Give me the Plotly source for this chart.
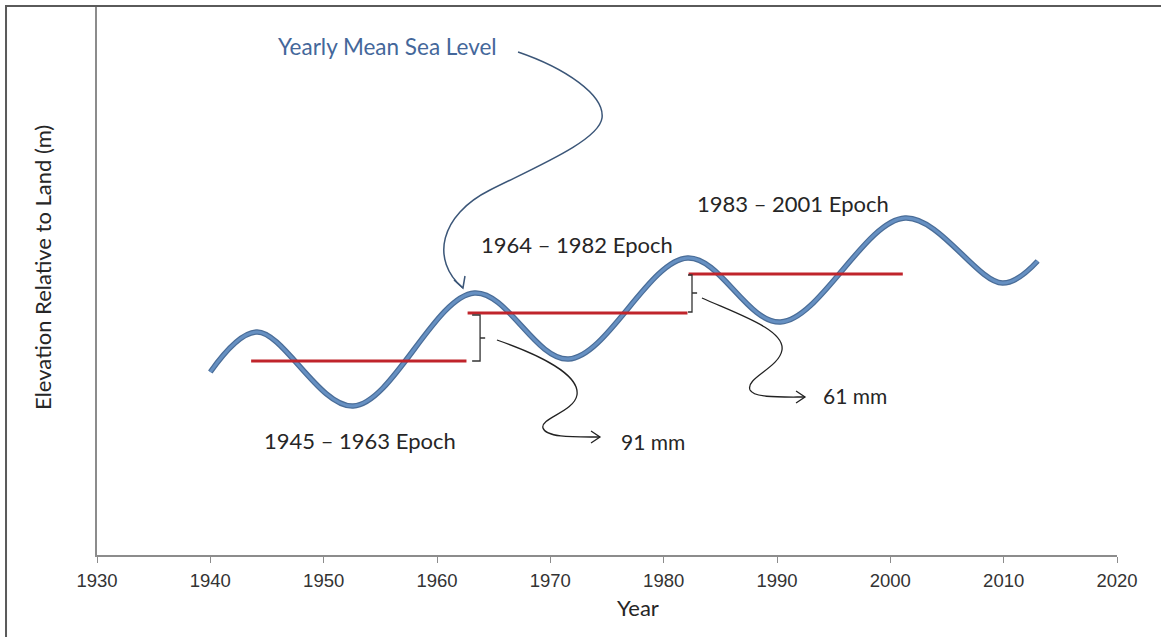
import plotly.graph_objects as go

# ---------------- data ----------------
# yearly mean sea level: start, alternating peaks / troughs, end
years = [1940.0, 1944.1, 1952.6, 1963.3, 1971.6, 1982.1, 1990.3, 2001.3, 2009.9, 2013.0]
sea_level = [0.366, 0.446, 0.298, 0.524, 0.392, 0.594, 0.466, 0.674, 0.544, 0.588]

epoch_start = [1943.6, 1962.7, 1982.2]
epoch_end = [1962.6, 1982.1, 2001.1]
epoch_mean = [0.388, 0.484, 0.562]
epoch_labels = ["1945 \u2013 1963 Epoch", "1964 \u2013 1982 Epoch", "1983 \u2013 2001 Epoch"]
epoch_label_x = [1953.2, 1972.35, 1991.4]
epoch_label_y = [0.230, 0.622, 0.704]

diff_labels = ["91 mm", "61 mm"]
diff_label_x = [1979.1, 1996.9]
diff_label_y = [0.228, 0.320]

x_ticks = [1930, 1940, 1950, 1960, 1970, 1980, 1990, 2000, 2010, 2020]

# ---------------- figure ----------------
fig = go.Figure()

# sea level curve (outer darker edge + inner colour)
fig.add_trace(go.Scatter(x=years, y=sea_level, mode="lines",
                         line=dict(color="#4a6d98", width=5.5, shape="spline", smoothing=1.0),
                         hoverinfo="skip", showlegend=False))
fig.add_trace(go.Scatter(x=years, y=sea_level, mode="lines",
                         line=dict(color="#6690c2", width=3, shape="spline", smoothing=1.0),
                         showlegend=False))

# epoch mean lines
ex, ey = [], []
for s, e, m in zip(epoch_start, epoch_end, epoch_mean):
    ex += [s, e, None]
    ey += [m, m, None]
fig.add_trace(go.Scatter(x=ex, y=ey, mode="lines",
                         line=dict(color="#c0242b", width=3), showlegend=False))

shapes = []

def path_shape(path, color, width):
    return dict(type="path", xref="x", yref="y", path=path,
                line=dict(color=color, width=width), layer="above")

# brackets between successive epoch means
shapes.append(path_shape("M 1963.1,0.480 L 1963.8,0.480 L 1963.8,0.388 L 1963.1,0.388 "
                         "M 1963.8,0.434 L 1964.25,0.434", "#333333", 1.3))
shapes.append(path_shape("M 1982.15,0.560 L 1982.5,0.560 L 1982.5,0.486 L 1982.15,0.486 "
                         "M 1982.5,0.524 L 1982.95,0.524", "#333333", 1.3))

# curved arrow: "Yearly Mean Sea Level" -> curve peak
shapes.append(path_shape("M 1967.15,1.006 C 1971.29,0.974 1974.82,0.920 1974.56,0.874 "
                         "C 1974.29,0.830 1969.09,0.780 1964.68,0.730 "
                         "C 1960.26,0.680 1959.38,0.590 1962.29,0.534", "#3b5678", 1.5))
shapes.append(path_shape("M 1961.5,0.550 L 1962.29,0.534 L 1962.47,0.558", "#3b5678", 1.5))

# curved arrow to "91 mm"
shapes.append(path_shape("M 1965.29,0.430 C 1969.09,0.400 1972.62,0.360 1972.35,0.320 "
                         "C 1972.09,0.286 1969.09,0.274 1969.35,0.254 "
                         "C 1969.62,0.234 1972.18,0.236 1974.38,0.236", "#222222", 1.3))
shapes.append(path_shape("M 1973.59,0.248 L 1974.38,0.236 L 1973.59,0.224", "#222222", 1.3))

# curved arrow to "61 mm"
shapes.append(path_shape("M 1983.38,0.514 C 1986.74,0.480 1990.71,0.450 1990.44,0.410 "
                         "C 1990.18,0.374 1987.18,0.354 1987.62,0.330 "
                         "C 1987.97,0.314 1990.26,0.316 1992.47,0.316", "#222222", 1.3))
shapes.append(path_shape("M 1991.68,0.328 L 1992.47,0.316 L 1991.68,0.304", "#222222", 1.3))

# outer frame (top and left edges visible)
shapes.append(dict(type="rect", xref="paper", yref="paper", x0=-0.0892, x1=1.2,
                   y0=-0.5, y1=1.0018, line=dict(color="#5a5a5a", width=2), layer="below"))

annotations = []
text_font = dict(family="Lato", size=22, color="#262626")
for t, x, y in zip(epoch_labels, epoch_label_x, epoch_label_y):
    annotations.append(dict(text=t, x=x, y=y, xref="x", yref="y", showarrow=False,
                            xanchor="center", yanchor="middle", font=text_font))
for t, x, y in zip(diff_labels, diff_label_x, diff_label_y):
    annotations.append(dict(text=t, x=x, y=y, xref="x", yref="y", showarrow=False,
                            xanchor="center", yanchor="middle",
                            font=dict(family="Lato", size=21, color="#262626")))
annotations.append(dict(text="Yearly Mean Sea Level", x=1955.6, y=1.018, xref="x", yref="y",
                        showarrow=False, xanchor="center", yanchor="middle",
                        font=dict(family="Lato", size=22.5, color="#44679a")))
annotations.append(dict(text="Elevation Relative to Land (m)", x=-0.054, y=0.5255,
                        xref="paper", yref="paper", showarrow=False, textangle=-90,
                        xanchor="center", yanchor="middle",
                        font=dict(family="Lato", size=22, color="#262626")))
annotations.append(dict(text="Year", x=0.530, y=-0.095, xref="paper", yref="paper",
                        showarrow=False, xanchor="center", yanchor="middle",
                        font=dict(family="Lato", size=22, color="#262626")))

fig.update_layout(
    width=1161, height=637,
    margin=dict(l=97, r=44, t=7, b=82),
    paper_bgcolor="white", plot_bgcolor="white",
    showlegend=False,
    shapes=shapes, annotations=annotations,
    xaxis=dict(range=[1930, 2020], tickvals=x_ticks, ticktext=[str(v) for v in x_ticks],
               showgrid=False, zeroline=False, showline=True, linecolor="#8c8c8c",
               linewidth=1.5, ticks="outside", ticklen=6, tickcolor="#8c8c8c",
               tickwidth=1.2, ticklabelstandoff=2,
               tickfont=dict(family="Liberation Sans", size=18.5, color="#333333")),
    yaxis=dict(range=[0, 1.096], showgrid=False, zeroline=False, showline=True,
               linecolor="#8c8c8c", linewidth=1.5, ticks="", showticklabels=False),
)

fig.write_html("out.html", config={"displayModeBar": False},
               post_script="document.body.style.margin='0';")
